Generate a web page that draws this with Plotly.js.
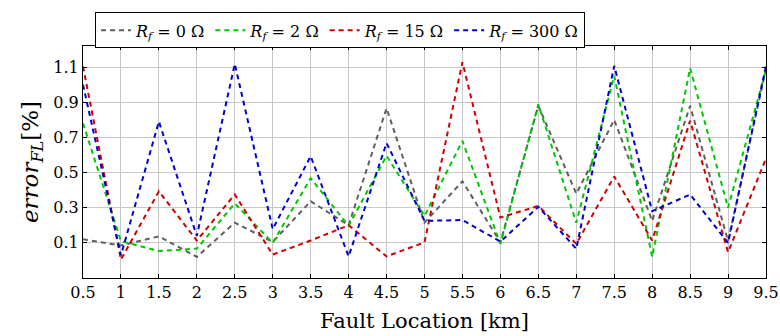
<!DOCTYPE html>
<html>
<head>
<meta charset="utf-8">
<script src="https://cdn.plot.ly/plotly-3.0.1.min.js"></script>
<style>body{margin:0;padding:0;background:#fff}</style>
</head>
<body>
<div id="chart" style="width:780px;height:336px"></div>
<script>
const locations = [0.5,1,1.5,2,2.5,3,3.5,4,4.5,5,5.5,6,6.5,7,7.5,8,8.5,9,9.5];
const rf0   = [0.12,0.085,0.137,0.02,0.215,0.105,0.337,0.2,0.866,0.215,0.45,0.103,0.88,0.38,0.80,0.225,0.88,0.11,1.09];
const rf2   = [0.78,0.11,0.053,0.067,0.324,0.1,0.468,0.197,0.595,0.253,0.68,0.094,0.888,0.215,1.05,0.02,1.094,0.3,1.085];
const rf15  = [1.104,0.005,0.393,0.113,0.375,0.033,0.113,0.2,0.023,0.103,1.128,0.244,0.31,0.094,0.478,0.113,0.795,0.047,0.58];
const rf300 = [1.0,0.029,0.79,0.14,1.118,0.178,0.593,0.023,0.668,0.225,0.23,0.107,0.305,0.066,1.107,0.28,0.375,0.1,1.107];
const seriesNames = ['<i>R<sub>f</sub></i> = 0 Ω','<i>R<sub>f</sub></i> = 2 Ω','<i>R<sub>f</sub></i> = 15 Ω','<i>R<sub>f</sub></i> = 300 Ω'];
const colors = ['#5f5f5f','#00c800','#d00000','#0000d0'];
const xTicks = [0.5,1,1.5,2,2.5,3,3.5,4,4.5,5,5.5,6,6.5,7,7.5,8,8.5,9,9.5];
const yTicks = [0.1,0.3,0.5,0.7,0.9,1.1];

const all = [rf0, rf2, rf15, rf300];
const traces = all.map((ys,i)=>({
  x: locations, y: ys, type:'scatter', mode:'lines', name: seriesNames[i],
  line:{color: colors[i], width:2, dash:'5px,4px'}
}));

const font = "DejaVu Serif";
const layout = {
  width:780, height:336,
  margin:{l:83, r:14, t:43, b:58},
  paper_bgcolor:'#fff', plot_bgcolor:'#fff',
  font:{family:font, size:16, color:'#000'},
  showlegend:true,
  legend:{orientation:'h', x:0.0176, xanchor:'left', y:1.145, yanchor:'top',
    bordercolor:'#000', borderwidth:1, bgcolor:'#fff',
    font:{family:font, size:16, color:'#000'}, itemwidth:30, tracegroupgap:0},
  xaxis:{range:[0.5,9.5], tickvals:xTicks, ticktext:xTicks.map(String),
    showgrid:true, gridcolor:'#c8c8c8', gridwidth:1, zeroline:false,
    showline:true, linecolor:'#000', linewidth:1, mirror:'ticks',
    ticks:'inside', ticklen:4, tickcolor:'#000',
    tickfont:{family:font, size:16, color:'#000'},
    title:{text:'Fault Location [km]', font:{family:font, size:21, color:'#000'}, standoff:12}},
  yaxis:{range:[-0.1,1.22], tickvals:yTicks, ticktext:yTicks.map(String),
    showgrid:true, gridcolor:'#c8c8c8', gridwidth:1, zeroline:false,
    showline:true, linecolor:'#000', linewidth:1, mirror:'ticks',
    ticks:'inside', ticklen:4, tickcolor:'#000',
    tickfont:{family:font, size:16, color:'#000'},
    title:{text:'<i>error<sub>FL</sub></i>[%]', font:{family:font, size:23, color:'#000'}, standoff:8}}
};
Plotly.newPlot('chart', traces, layout, {displayModeBar:false, staticPlot:true});
</script>
</body>
</html>
